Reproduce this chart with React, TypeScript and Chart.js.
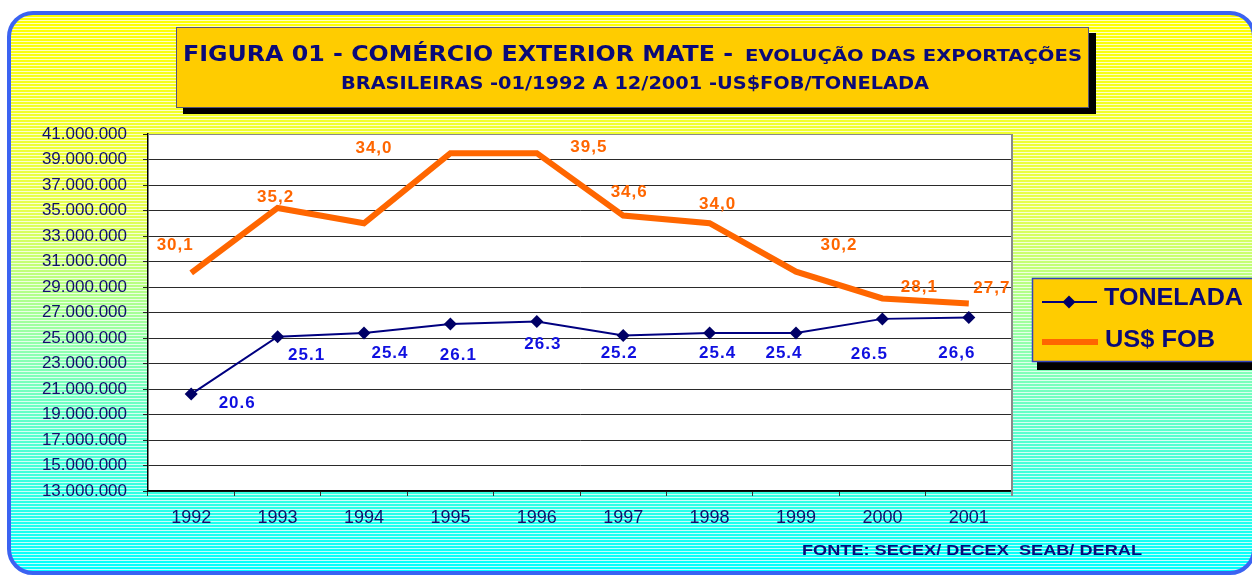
import React, { useEffect, useRef } from 'react';
import { Chart, registerables } from 'chart.js';

Chart.register(...registerables);

// ---------- data ----------
const years = ['1992', '1993', '1994', '1995', '1996', '1997', '1998', '1999', '2000', '2001'];
const tonelada = [20600000, 25100000, 25400000, 26100000, 26300000, 25200000, 25400000, 25400000, 26500000, 26600000];
const usFob = [30100000, 35200000, 34000000, 39500000, 39500000, 34600000, 34000000, 30200000, 28100000, 27700000];
const toneladaLabels = ['20.6', '25.1', '25.4', '26.1', '26.3', '25.2', '25.4', '25.4', '26.5', '26,6'];
const usFobLabels = ['30,1', '35,2', '34,0', '', '39,5', '34,6', '34,0', '30,2', '28,1', '27,7'];
const yMin = 13000000;
const yMax = 41000000;
const yStep = 2000000;

const titleLine1a = 'FIGURA 01 - COMÉRCIO EXTERIOR MATE -';
const titleLine1b = 'EVOLUÇÃO DAS EXPORTAÇÕES';
const titleLine2 = 'BRASILEIRAS -01/1992 A 12/2001 -US$FOB/TONELADA';
const footerText = 'FONTE: SECEX/ DECEX  SEAB/ DERAL';
const legendNames = ['TONELADA', 'US$ FOB'];

// label placement (pixel offsets from the point), style only
const toneladaLabelOffsets = [[46, 9], [29, 19], [26, 20], [8, 31], [6, 23], [-4, 18], [8, 20], [-12, 20], [-13, 35], [-12, 36]];
const usFobLabelOffsets = [[-16, -28], [-2, -11], [10, -75], [0, 0], [52, -6], [6, -23], [8, -19], [43, -26], [37, -11], [23, -15]];

const NAVY = '#0a0a78';
const ORANGE = '#ff6600';

function fmt(v: number) {
  return Math.round(v).toString().replace(/\B(?=(\d{3})+(?!\d))/g, '.');
}

function fitText(ctx: CanvasRenderingContext2D, text: string, left: number, right: number, cy: number, font: string, color: string) {
  ctx.save();
  ctx.font = font;
  ctx.fillStyle = color;
  ctx.textBaseline = 'middle';
  ctx.textAlign = 'left';
  const w = ctx.measureText(text).width;
  const s = (right - left) / w;
  ctx.translate(left, cy);
  ctx.scale(s, 1);
  ctx.fillText(text, 0, 0);
  ctx.restore();
}

function roundRectPath(ctx: CanvasRenderingContext2D, x0: number, y0: number, x1: number, y1: number, r: number) {
  ctx.beginPath();
  ctx.moveTo(x0 + r, y0);
  ctx.lineTo(x1 - r, y0);
  ctx.arcTo(x1, y0, x1, y0 + r, r);
  ctx.lineTo(x1, y1 - r);
  ctx.arcTo(x1, y1, x1 - r, y1, r);
  ctx.lineTo(x0 + r, y1);
  ctx.arcTo(x0, y1, x0, y1 - r, r);
  ctx.lineTo(x0, y0 + r);
  ctx.arcTo(x0, y0, x0 + r, y0, r);
  ctx.closePath();
}

function diamond(ctx: CanvasRenderingContext2D, x: number, y: number, r: number, color: string) {
  ctx.beginPath();
  ctx.moveTo(x, y - r);
  ctx.lineTo(x + r, y);
  ctx.lineTo(x, y + r);
  ctx.lineTo(x - r, y);
  ctx.closePath();
  ctx.fillStyle = color;
  ctx.fill();
}

const decorPlugin = {
  id: 'decor',
  beforeDraw(chart: any) {
    const ctx: CanvasRenderingContext2D = chart.ctx;
    const { width, height } = chart;
    ctx.save();
    ctx.fillStyle = '#ffffff';
    ctx.fillRect(0, 0, width, height);
    const x0 = 9, y0 = 13, x1 = 1254, y1 = 573, r = 24;
    roundRectPath(ctx, x0, y0, x1, y1, r);
    const g = ctx.createLinearGradient(0, y0, 0, y1);
    g.addColorStop(0, '#ffff00');
    g.addColorStop(0.35, '#e6ff50');
    g.addColorStop(0.6, '#90ffb0');
    g.addColorStop(1, '#00ffff');
    ctx.fillStyle = g;
    ctx.fill();
    ctx.clip();
    ctx.fillStyle = 'rgba(255,255,255,0.75)';
    for (let y = y0 + 1; y < y1; y += 3) ctx.fillRect(x0, y, x1 - x0, 1);
    ctx.restore();

    ctx.save();
    roundRectPath(ctx, x0, y0, x1, y1, r);
    ctx.lineWidth = 4;
    ctx.strokeStyle = '#3b63f2';
    ctx.stroke();
    ctx.restore();

    const ca = chart.chartArea;
    ctx.save();
    ctx.fillStyle = '#ffffff';
    ctx.fillRect(ca.left, ca.top, ca.right - ca.left, ca.bottom - ca.top);
    ctx.restore();
  },
  beforeDatasetsDraw(chart: any) {
    const ctx: CanvasRenderingContext2D = chart.ctx;
    const ca = chart.chartArea;
    ctx.save();
    ctx.strokeStyle = '#8a8a8a';
    ctx.lineWidth = 2;
    ctx.beginPath();
    ctx.moveTo(ca.right, ca.top);
    ctx.lineTo(ca.right, ca.bottom + 5);
    ctx.stroke();
    ctx.lineWidth = 1;
    ctx.beginPath();
    ctx.moveTo(ca.left, ca.top + 0.5);
    ctx.lineTo(ca.right, ca.top + 0.5);
    ctx.stroke();
    ctx.restore();
  },
  afterDatasetsDraw(chart: any) {
    const ctx: CanvasRenderingContext2D = chart.ctx;
    ctx.save();
    ctx.textAlign = 'center';
    ctx.textBaseline = 'middle';
    ctx.font = 'bold 17px "Liberation Sans", Arial, sans-serif';
    try { (ctx as any).letterSpacing = '1px'; } catch (e) {}
    const m0 = chart.getDatasetMeta(0);
    const m1 = chart.getDatasetMeta(1);
    ctx.fillStyle = '#1010e0';
    toneladaLabels.forEach((t, i) => {
      const p = m0.data[i];
      if (!t || !p) return;
      ctx.fillText(t, p.x + toneladaLabelOffsets[i][0], p.y + toneladaLabelOffsets[i][1]);
    });
    ctx.fillStyle = ORANGE;
    usFobLabels.forEach((t, i) => {
      const p = m1.data[i];
      if (!t || !p) return;
      ctx.fillText(t, p.x + usFobLabelOffsets[i][0], p.y + usFobLabelOffsets[i][1]);
    });
    ctx.restore();
  },
  afterDraw(chart: any) {
    const ctx: CanvasRenderingContext2D = chart.ctx;
    // title box
    ctx.save();
    ctx.fillStyle = '#000000';
    ctx.fillRect(183, 33, 913, 81);
    ctx.fillStyle = '#ffcc00';
    ctx.fillRect(176, 27, 913, 81);
    ctx.strokeStyle = '#555577';
    ctx.lineWidth = 1;
    ctx.strokeRect(176.5, 27.5, 912, 80);
    ctx.restore();
    const tf = '"DejaVu Sans", "Liberation Sans", sans-serif';
    fitText(ctx, titleLine1a, 183, 733, 55, `bold 22px ${tf}`, NAVY);
    fitText(ctx, titleLine1b, 745, 1082, 57, `bold 16px ${tf}`, NAVY);
    fitText(ctx, titleLine2, 341, 929, 85, `bold 17px ${tf}`, NAVY);

    // legend box
    ctx.save();
    ctx.fillStyle = '#000000';
    ctx.fillRect(1037, 284, 230, 86);
    ctx.fillStyle = '#ffcc00';
    ctx.fillRect(1032, 278, 230, 84);
    ctx.strokeStyle = '#3344bb';
    ctx.lineWidth = 1.5;
    ctx.strokeRect(1032.5, 278.5, 230, 83);
    ctx.strokeStyle = '#000080';
    ctx.lineWidth = 2;
    ctx.beginPath();
    ctx.moveTo(1042, 302);
    ctx.lineTo(1097, 302);
    ctx.stroke();
    diamond(ctx, 1069, 302, 6.5, '#000066');
    ctx.strokeStyle = ORANGE;
    ctx.lineWidth = 6;
    ctx.beginPath();
    ctx.moveTo(1042, 342);
    ctx.lineTo(1098, 342);
    ctx.stroke();
    ctx.restore();
    const lf = '"Liberation Sans", Arial, sans-serif';
    fitText(ctx, legendNames[0], 1104, 1243, 298, `bold 24px ${lf}`, NAVY);
    fitText(ctx, legendNames[1], 1105, 1215, 340, `bold 24px ${lf}`, NAVY);

    // footer
    fitText(ctx, footerText, 802, 1142, 551, `bold 15px ${lf}`, NAVY);
  },
};

export default function App() {
  const ref = useRef<HTMLCanvasElement>(null);
  useEffect(() => {
    const canvas = ref.current;
    if (!canvas) return;
    const chart = new Chart(canvas, {
      type: 'line',
      data: {
        labels: years,
        datasets: [
          {
            label: legendNames[0],
            data: tonelada,
            borderColor: '#000080',
            backgroundColor: '#000066',
            borderWidth: 2,
            pointStyle: 'rectRot',
            pointRadius: 6.5,
            pointBorderWidth: 0,
            pointBackgroundColor: '#000066',
            tension: 0,
          },
          {
            label: legendNames[1],
            data: usFob,
            borderColor: ORANGE,
            backgroundColor: ORANGE,
            borderWidth: 6,
            pointRadius: 0,
            tension: 0,
          },
        ],
      },
      options: {
        responsive: false,
        animation: false,
        devicePixelRatio: 1,
        layout: { padding: { top: 134, right: 240, bottom: 0, left: 0 } },
        plugins: {
          legend: { display: false },
          title: { display: false },
          tooltip: { enabled: false },
        },
        scales: {
          x: {
            type: 'category',
            offset: true,
            afterFit: (s: any) => { s.height = 84; },
            grid: { display: true, offset: true, drawOnChartArea: false, drawTicks: true, tickLength: 5, color: '#333333' },
            border: { display: true, color: '#000000', width: 1.5 },
            ticks: {
              color: '#10106a',
              padding: 11,
              font: { family: '"Liberation Sans", Arial, sans-serif', size: 18 },
              maxRotation: 0,
              autoSkip: false,
            },
          },
          y: {
            min: yMin,
            max: yMax,
            afterFit: (s: any) => { s.width = 148; },
            grid: { color: '#2a2a2a', lineWidth: 1, drawTicks: true, tickLength: 5 },
            border: { display: true, color: '#000000', width: 1.5 },
            ticks: {
              stepSize: yStep,
              color: '#10106a',
              padding: 16,
              font: { family: '"Liberation Sans", Arial, sans-serif', size: 17 },
              callback: (v: any) => fmt(Number(v)),
            },
          },
        },
      },
      plugins: [decorPlugin],
    } as any);
    return () => chart.destroy();
  }, []);
  return (
    <div style={{ position: 'absolute', left: 0, top: 0, width: 1252, height: 575 }}>
      <canvas ref={ref} width={1252} height={575} style={{ display: 'block', width: 1252, height: 575 }} />
    </div>
  );
}
